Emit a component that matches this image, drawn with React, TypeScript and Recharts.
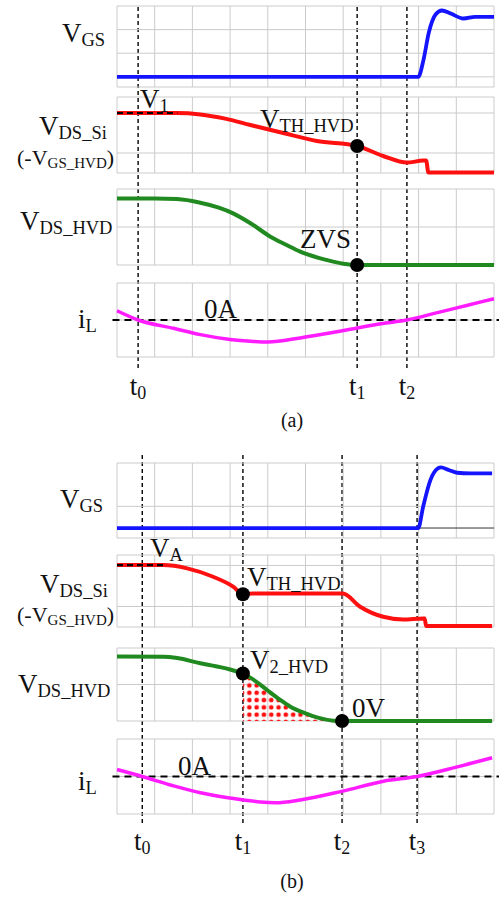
import React from 'react';
import { ComposedChart, Line, Area, XAxis, YAxis, CartesianGrid, ReferenceLine, ReferenceDot } from 'recharts';

type P = { t: number; v: number };
const pts = (arr: number[][]): P[] => arr.map(([t, v]) => ({ t, v }));

// time grid (10 divisions)
const gridTicksX = [0, 1, 2, 3, 4, 5, 6, 7, 8, 9, 10];

// event instants
const tA = [0.56, 6.37, 7.69];
const tB = [0.67, 3.34, 5.97, 7.96];

// ---------- (a) ----------
const vgsA = pts([[0, 0], [7.99, 0], [8.13, 0.72], [8.27, 1.87], [8.45, 2.64], [8.62, 2.81], [8.85, 2.68], [9.19, 2.47], [9.5, 2.54], [10, 2.54]]);
const vdsSiA = pts([[0, 3], [1.59, 3], [2.21, 2.93], [2.87, 2.72], [3.54, 2.4], [4.41, 2.0], [5.3, 1.6], [6.37, 1.35], [7.06, 0.85], [7.69, 0.52], [8.12, 0.62], [8.2, 0.62], [8.26, 0.02], [10, 0.02]]);
const v1LevelA = pts([[0, 3], [1.6, 3]]);
const vdsHvdA = pts([[0, 3.5], [1.0, 3.5], [1.59, 3.47], [2.21, 3.28], [2.7, 3.02], [3.08, 2.72], [3.54, 2.2], [4.07, 1.49], [4.5, 1.05], [4.86, 0.7], [5.57, 0.26], [6.0, 0.07], [6.37, 0], [10, 0]]);
const iLA = pts([[0, 0.5], [0.56, 0], [1.5, -0.45], [2.21, -0.79], [3.0, -1.05], [3.54, -1.15], [4.0, -1.19], [4.86, -0.97], [5.6, -0.72], [6.37, -0.43], [7.0, -0.2], [7.69, 0], [8.5, 0.4], [9.3, 0.8], [10, 1.15]]);

// ---------- (b) ----------
const vgsB = pts([[0, 0], [7.99, 0], [8.12, 0.98], [8.31, 2.2], [8.52, 2.76], [8.59, 2.8], [8.8, 2.68], [9.02, 2.55], [9.37, 2.52], [9.95, 2.52]]);
const vdsSiB = pts([[0, 3.02], [1.23, 3.02], [1.86, 2.86], [2.55, 2.45], [3.08, 1.97], [3.34, 1.6], [3.6, 1.63], [5.99, 1.63], [6.45, 0.99], [7.06, 0.5], [7.59, 0.37], [8.12, 0.42], [8.16, 0.42], [8.2, 0.05], [9.95, 0.05]]);
const vaLevelB = pts([[0, 3.02], [1.23, 3.02]]);
const vdsHvdB = pts([[0, 3.53], [1.23, 3.52], [1.6, 3.45], [2.21, 3.16], [2.74, 2.95], [3.0, 2.82], [3.34, 2.6], [3.7, 2.15], [3.98, 1.7], [4.3, 1.2], [4.6, 0.78], [5.0, 0.42], [5.3, 0.2], [5.74, 0.02], [5.97, 0], [9.95, 0]]);
const iLB = pts([[0, 0.37], [0.67, 0], [1.5, -0.5], [2.21, -0.87], [2.9, -1.12], [3.36, -1.25], [3.8, -1.36], [4.2, -1.4], [4.86, -1.25], [5.99, -0.78], [7.07, -0.25], [7.96, 0], [9.0, 0.5], [9.95, 1.0]]);
const hatchB = vdsHvdB.filter((p) => p.t >= tB[1] && p.t <= tB[2]);

// frame for the overlay of event markers
const overlayFrame = pts([[0, 0], [10, 1]]);

const BLUE = '#1414ff';
const RED = '#ff1010';
const GREEN = '#208a20';
const MAGENTA = '#ff1cff';
const GRID = '#cbcbcb';
const FONT = '"Liberation Serif", "DejaVu Serif", serif';

const PLOT_L = 116.5;
const PLOT_W = 377;
const M = 10;

function Panel({ top, h, domain, yTicks, children }: any) {
  return (
    <div style={{ position: 'absolute', left: PLOT_L - M, top: top - M }}>
      <ComposedChart width={PLOT_W + 2 * M} height={h + 2 * M} margin={{ top: M, right: M, bottom: M, left: M }}>
        <defs>
          <pattern id="redDots" width={7.3} height={7.3} patternUnits="userSpaceOnUse">
            <circle cx={3.65} cy={3.65} r={2.3} fill="#ff1010" />
          </pattern>
        </defs>
        <CartesianGrid stroke={GRID} strokeWidth={1} />
        <XAxis type="number" dataKey="t" domain={[0, 10]} ticks={gridTicksX} hide />
        <YAxis type="number" domain={domain} ticks={yTicks} hide />
        {children}
      </ComposedChart>
    </div>
  );
}

function tr(data: P[], color: string, w = 3.5, extra: any = {}) {
  return <Line data={data} dataKey="v" type="monotone" stroke={color} strokeWidth={w} dot={false} isAnimationActive={false} {...extra} />;
}

function TTick(props: any) {
  const { x, y, index } = props;
  return (
    <text x={x} y={y + 19} textAnchor="middle" fontFamily={FONT} fontSize={27} fill="#111">
      t<tspan fontSize={18} dy={4}>{index}</tspan>
    </text>
  );
}

function Overlay({ top, plotH, ticks }: any) {
  return (
    <div style={{ position: 'absolute', left: PLOT_L - M, top }}>
      <ComposedChart width={PLOT_W + 2 * M} height={plotH + 40} margin={{ top: 0, right: M, bottom: 0, left: M }} data={overlayFrame}>
        <XAxis type="number" dataKey="t" domain={[0, 10]} ticks={ticks} axisLine={false} tickLine={false} height={40} tick={<TTick />} interval={0} />
        <YAxis type="number" domain={[0, 1]} hide />
        <Line dataKey="v" stroke="none" dot={false} isAnimationActive={false} />
        {ticks.map((t: number, i: number) => (
          <ReferenceLine key={i} x={t} stroke="#000" strokeWidth={1.4} strokeDasharray="4 3" />
        ))}
      </ComposedChart>
    </div>
  );
}

function Lbl({ x, y, main, sub, tail, size = 27, subSize = 18.5, dy = 4, anchor = 'start' }: any) {
  return (
    <text x={x} y={y} fontSize={size} textAnchor={anchor}>
      {main}
      {sub !== undefined && <tspan fontSize={subSize} dy={dy}>{sub}</tspan>}
      {tail !== undefined && <tspan fontSize={size} dy={-dy}>{tail}</tspan>}
    </text>
  );
}

const zeroDash = (
  <ReferenceLine segment={[{ x: -0.12, y: 0 }, { x: 10.15, y: 0 }]} stroke="#000" strokeWidth={2.2} strokeDasharray="7 5" ifOverflow="visible" />
);

export default function App() {
  return (
    <div style={{ position: 'absolute', left: 0, top: 0, width: 499, height: 897, background: '#fff', overflow: 'hidden' }}>
      {/* ---------- (a) ---------- */}
      <Overlay top={5} plotH={363} ticks={tA} />
      <Panel top={6} h={81} domain={[-0.43, 3]} yTicks={[0, 1, 2, 3]}>
        {tr(vgsA, BLUE, 3.8)}
      </Panel>
      <Panel top={97} h={76} domain={[0, 3.8]} yTicks={[0, 1, 2, 3]}>
        {tr(vdsSiA, RED, 4)}
        {tr(v1LevelA, '#000', 2.2, { strokeDasharray: '6 4', type: 'linear' })}
        <ReferenceDot x={tA[1]} y={1.35} r={7} fill="#000" stroke="none" />
      </Panel>
      <Panel top={189} h={76} domain={[0, 4]} yTicks={[0, 1, 2, 3, 4]}>
        {tr(vdsHvdA, GREEN, 4)}
        <ReferenceDot x={tA[1]} y={0} r={7} fill="#000" stroke="none" />
      </Panel>
      <Panel top={283} h={74} domain={[-2, 2]} yTicks={[-2, -1, 0, 1, 2]}>
        {zeroDash}
        {tr(iLA, MAGENTA, 3.5)}
      </Panel>

      {/* ---------- (b) ---------- */}
      <Overlay top={455} plotH={368} ticks={tB} />
      <Panel top={463} h={75} domain={[-0.46, 3]} yTicks={[0, 1, 2, 3]}>
        <ReferenceLine y={0} stroke="#333" strokeWidth={1} />
        {tr(vgsB, BLUE, 3.8)}
      </Panel>
      <Panel top={555} h={72} domain={[0, 3.51]} yTicks={[0, 1, 2, 3]}>
        {tr(vdsSiB, RED, 4)}
        {tr(vaLevelB, '#000', 2.2, { strokeDasharray: '6 4', type: 'linear' })}
        <ReferenceDot x={tB[1]} y={1.6} r={7} fill="#000" stroke="none" />
      </Panel>
      <Panel top={648} h={73} domain={[0, 4]} yTicks={[0, 1, 2, 3, 4]}>
        <Area data={hatchB} dataKey="v" type="monotone" stroke="none" fill="url(#redDots)" fillOpacity={1} isAnimationActive={false} />
        {tr(vdsHvdB, GREEN, 4)}
        <ReferenceDot x={tB[1]} y={2.6} r={7} fill="#000" stroke="none" />
        <ReferenceDot x={tB[2]} y={0} r={7} fill="#000" stroke="none" />
      </Panel>
      <Panel top={739} h={75} domain={[-2, 2]} yTicks={[-2, -1, 0, 1, 2]}>
        {zeroDash}
        {tr(iLB, MAGENTA, 3.5)}
      </Panel>

      {/* ---------- labels ---------- */}
      <svg width={499} height={897} style={{ position: 'absolute', left: 0, top: 0, pointerEvents: 'none' }} fontFamily={FONT} fill="#111">
        <Lbl x={62} y={42} main="V" sub="GS" />
        <Lbl x={39} y={135} main="V" sub="DS_Si" />
        <Lbl x={17} y={165} main="(-V" sub="GS_HVD" tail=")" size={22} subSize={15} dy={3} />
        <Lbl x={20} y={230} main="V" sub="DS_HVD" />
        <Lbl x={78} y={328} main="i" sub="L" />
        <Lbl x={140} y={108} main="V" sub="1" />
        <Lbl x={260} y={128} main="V" sub="TH_HVD" />
        <Lbl x={300} y={248} main="ZVS" />
        <Lbl x={204} y={318} main="0A" />
        <Lbl x={292} y={427} main="(a)" size={20} anchor="middle" />

        <Lbl x={60} y={508} main="V" sub="GS" />
        <Lbl x={40} y={593} main="V" sub="DS_Si" />
        <Lbl x={17} y={622} main="(-V" sub="GS_HVD" tail=")" size={22} subSize={15} dy={3} />
        <Lbl x={18} y={693} main="V" sub="DS_HVD" />
        <Lbl x={78} y={790} main="i" sub="L" />
        <Lbl x={150} y={557} main="V" sub="A" />
        <Lbl x={247} y={586} main="V" sub="TH_HVD" />
        <Lbl x={250} y={669} main="V" sub="2_HVD" />
        <Lbl x={352} y={717} main="0V" />
        <Lbl x={178} y={775} main="0A" />
        <Lbl x={292} y={888} main="(b)" size={20} anchor="middle" />
      </svg>
    </div>
  );
}
